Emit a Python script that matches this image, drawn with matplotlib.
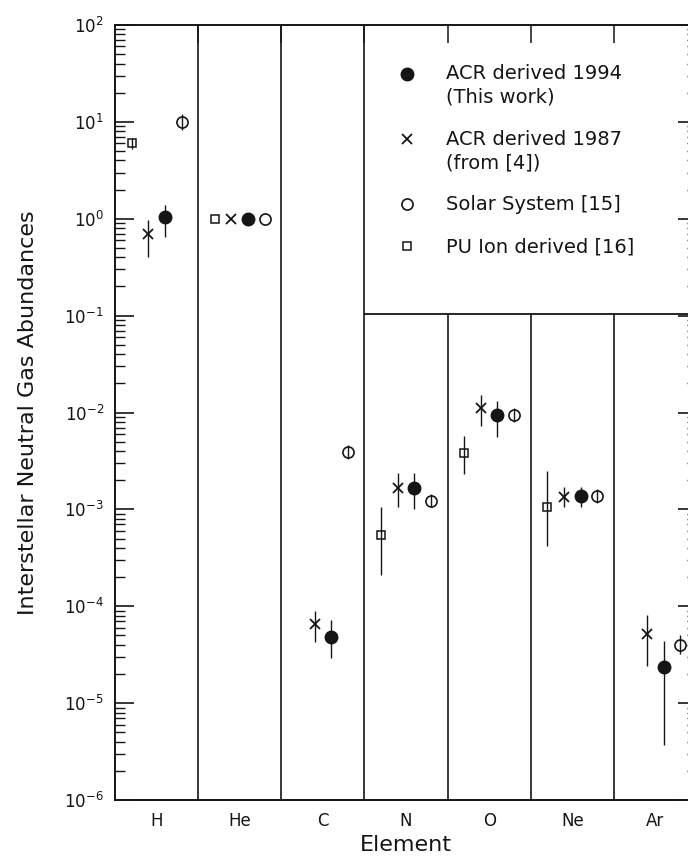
import numpy as np
import matplotlib
matplotlib.use("Agg")
import matplotlib.pyplot as plt
from matplotlib.lines import Line2D
from matplotlib.legend_handler import HandlerLine2D
from matplotlib.ticker import NullFormatter, LogLocator

# ---- data ----
elements = ["H", "He", "C", "N", "O", "Ne", "Ar"]
nan = np.nan

acr94    = [1.05, 1.0, 4.8e-5,  1.66e-3, 9.5e-3, 1.37e-3, 2.35e-5]
acr94_lo = [0.65, 1.0, 2.95e-5, 1.0e-3,  5.6e-3, 1.05e-3, 3.7e-6]
acr94_hi = [1.38, 1.0, 7.2e-5,  2.4e-3,  1.3e-2, 1.7e-3,  4.4e-5]

acr87    = [0.70, 1.0, 6.6e-5, 1.66e-3, 1.12e-2, 1.35e-3, 5.2e-5]
acr87_lo = [0.40, 1.0, 4.3e-5, 1.05e-3, 7.3e-3,  1.05e-3, 2.4e-5]
acr87_hi = [0.98, 1.0, 8.9e-5, 2.4e-3,  1.5e-2,  1.7e-3,  8.1e-5]

solar    = [10.0, 1.0, 3.9e-3, 1.23e-3, 9.5e-3,  1.37e-3, 4.0e-5]
solar_lo = [8.3,  1.0, 3.3e-3, 1.05e-3, 8.0e-3,  1.15e-3, 3.2e-5]
solar_hi = [12.0, 1.0, 4.6e-3, 1.45e-3, 1.12e-2, 1.62e-3, 5.0e-5]

pui    = [6.0, 1.0, nan, 5.4e-4,  3.8e-3, 1.07e-3, nan]
pui_lo = [5.3, 1.0, nan, 2.1e-4,  2.3e-3, 4.2e-4,  nan]
pui_hi = [6.8, 1.0, nan, 1.05e-3, 5.7e-3, 2.5e-3,  nan]

decades = np.arange(-6, 3)

labels = ["ACR derived 1994\n(This work)", "ACR derived 1987\n(from [4])",
          "Solar System [15]", "PU Ion derived [16]"]

INK = "#151515"
plt.rcParams["font.family"] = "DejaVu Sans"


class FirstLineHandler(HandlerLine2D):
    """Legend marker lined up with the first line of a two-line label."""

    def __init__(self, lift, **kw):
        super().__init__(**kw)
        self.lift = lift

    def create_artists(self, legend, orig_handle, xdescent, ydescent,
                       width, height, fontsize, trans):
        arts = super().create_artists(legend, orig_handle, xdescent, ydescent,
                                      width, height, fontsize, trans)
        for a in arts:
            a.set_ydata(np.asarray(a.get_ydata()) + self.lift * fontsize)
        return arts


def draw_series(ax, offset, vals, lo, hi, **style):
    vals, lo, hi = (np.asarray(a, dtype=float) for a in (vals, lo, hi))
    ok = ~np.isnan(vals)
    x = np.arange(len(elements))[ok] + 0.5 + offset
    yerr = [vals[ok] - lo[ok], hi[ok] - vals[ok]]
    ax.errorbar(x, vals[ok], yerr=yerr, ls="none", ecolor=INK, elinewidth=1.0,
                capsize=0, **style)


fig = plt.figure(figsize=(6.88, 8.57), dpi=100)
ax = fig.add_axes([115 / 688, 57 / 857, 582 / 688, 775 / 857])

# ---- column separators and legend box ----
n = len(elements)
for b in range(1, n):
    top = 1e2 if b <= 3 else 0.105
    ax.vlines(b, 1e-6, top, color=INK, lw=1.2)
ax.hlines(0.105, 3, n, color=INK, lw=1.3)

# ---- data ----
draw_series(ax, -0.3, pui, pui_lo, pui_hi, marker="s", ms=6, mfc="none",
            mec=INK, mew=1.1)
draw_series(ax, -0.1, acr87, acr87_lo, acr87_hi, marker="x", ms=7, mec=INK,
            mew=1.3)
draw_series(ax, 0.1, acr94, acr94_lo, acr94_hi, marker="o", ms=9, mfc=INK,
            mec=INK)
draw_series(ax, 0.3, solar, solar_lo, solar_hi, marker="o", ms=8, mfc="none",
            mec=INK, mew=1.2)

# ---- axes ----
ax.set_yscale("log")
ax.set_ylim(1e-6, 1e2)
ax.set_yticks(10.0 ** decades)
ax.yaxis.set_minor_locator(LogLocator(subs=np.arange(2, 10)))
ax.yaxis.set_minor_formatter(NullFormatter())
ax.set_xlim(0, n)
ax.set_xticks(np.arange(n) + 0.5, elements)
ax.set_xticks(np.arange(1, n), minor=True)
ax.xaxis.set_minor_formatter(NullFormatter())
ax.tick_params(axis="x", which="major", length=0, pad=9, labelsize=12,
               colors=INK)
ax.tick_params(axis="x", which="minor", bottom=False, top=True,
               direction="in", length=13, width=1.1, color=INK)
ax.tick_params(axis="y", which="both", direction="in", left=True, right=True,
               color=INK, labelcolor=INK)
ax.tick_params(axis="y", which="major", length=14, width=1.2, pad=8,
               labelsize=12)
ax.tick_params(axis="y", which="minor", length=7, width=1.0)
for s in ax.spines.values():
    s.set_linewidth(1.4)
    s.set_color(INK)

ax.set_xlabel("Element", fontsize=16, color=INK, labelpad=3)
ax.set_ylabel("Interstellar Neutral Gas Abundances", fontsize=16, color=INK,
              labelpad=19)

# ---- legend ----
handles = [
    Line2D([], [], ls="none", marker="o", ms=9, mfc=INK, mec=INK),
    Line2D([], [], ls="none", marker="x", ms=7, mec=INK, mew=1.3),
    Line2D([], [], ls="none", marker="o", ms=8, mfc="white", mec=INK, mew=1.2),
    Line2D([], [], ls="none", marker="s", ms=6, mfc="white", mec=INK, mew=1.1),
]
hmap = {handles[0]: FirstLineHandler(0.62), handles[1]: FirstLineHandler(0.62)}
leg = ax.legend(handles, labels, handler_map=hmap, loc="upper left",
                bbox_to_anchor=(0.486, 0.950), frameon=False, fontsize=14,
                handlelength=0.93, handletextpad=1.55, labelspacing=1.2,
                borderpad=0, borderaxespad=0)
for t in leg.get_texts():
    t.set_linespacing(1.3)
    t.set_color(INK)

fig.savefig("out.png", dpi=100)
